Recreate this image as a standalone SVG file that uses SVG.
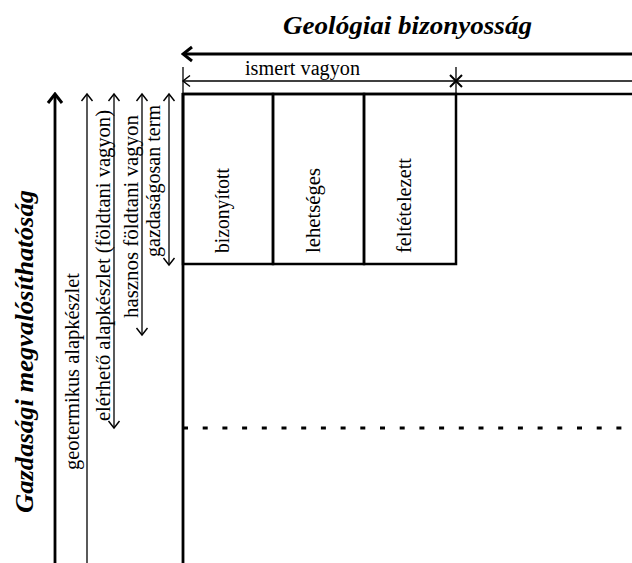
<svg xmlns="http://www.w3.org/2000/svg" width="632" height="563" viewBox="0 0 632 563" font-family="Liberation Serif, serif">
<style>
.t{font-size:20px;fill:#000}
.h{font-size:26px;font-weight:bold;font-style:italic;fill:#000}
.thin{stroke:#000;stroke-width:1.3;fill:none}
.thick{stroke:#000;stroke-width:2.8;fill:none}
.box{stroke:#000;stroke-width:2.5;fill:none}
</style>
<defs>
<marker id="ah" viewBox="-10 -8 12 16" markerWidth="12" markerHeight="16" refX="0" refY="0" markerUnits="userSpaceOnUse" orient="auto-start-reverse">
<path d="M-7,-5.5 L0,0 L-7,5.5" fill="none" stroke="#000" stroke-width="1.4"/>
</marker>
<marker id="ahb" viewBox="-12 -10 14 20" markerWidth="14" markerHeight="20" refX="0" refY="0" markerUnits="userSpaceOnUse" orient="auto-start-reverse">
<path d="M-9,-7 L0,0 L-9,7" fill="none" stroke="#000" stroke-width="3"/>
</marker>
</defs>
<rect width="632" height="563" fill="#fff"/>

<g id="title">
<text class="h" font-family="Liberation Serif, serif" x="283" y="34" textLength="249" lengthAdjust="spacingAndGlyphs">Geológiai bizonyosság</text>
</g>
<g id="axis-label">
<text class="h" font-family="Liberation Serif, serif" transform="translate(33,513) rotate(-90)" textLength="323" lengthAdjust="spacingAndGlyphs">Gazdasági megvalósíthatóság</text>
</g>

<g id="frame">
<line class="box" x1="183" y1="94" x2="632" y2="94"/>
<line class="thick" x1="183" y1="93" x2="183" y2="563"/>
<line x1="183" y1="428" x2="632" y2="428" stroke="#000" stroke-width="3" stroke-dasharray="5 14.7"/>
</g>

<g id="box-bizonyitott">
<rect class="box" x="183" y="94" width="90" height="170"/>
<text class="t" font-family="Liberation Serif, serif" transform="translate(229,253) rotate(-90)" textLength="85" lengthAdjust="spacingAndGlyphs">bizonyított</text>
</g>
<g id="box-lehetseges">
<rect class="box" x="273" y="94" width="91" height="170"/>
<text class="t" font-family="Liberation Serif, serif" transform="translate(320,253) rotate(-90)" textLength="85" lengthAdjust="spacingAndGlyphs">lehetséges</text>
</g>
<g id="box-feltetelezett">
<rect class="box" x="364" y="94" width="92" height="170"/>
<text class="t" font-family="Liberation Serif, serif" transform="translate(411,253) rotate(-90)" textLength="95" lengthAdjust="spacingAndGlyphs">feltételezett</text>
</g>

<g id="labels" font-family="Liberation Serif, serif">
<text class="t" x="245" y="75" textLength="115" lengthAdjust="spacingAndGlyphs">ismert vagyon</text>
<text class="t" transform="translate(79,470) rotate(-90)" textLength="197" lengthAdjust="spacingAndGlyphs">geotermikus alapkészlet</text>
<text class="t" transform="translate(110,421) rotate(-90)" textLength="311" lengthAdjust="spacingAndGlyphs">elérhető alapkészlet (földtani vagyon)</text>
<text class="t" transform="translate(138,318) rotate(-90)" textLength="203" lengthAdjust="spacingAndGlyphs">hasznos földtani vagyon</text>
<text class="t" transform="translate(160,257) rotate(-90)" textLength="152" lengthAdjust="spacingAndGlyphs">gazdaságosan term</text>
</g>

<g id="connectors">
<line class="thick" x1="632" y1="54" x2="183" y2="54" marker-end="url(#ahb)"/>
<line class="thin" x1="632" y1="81" x2="183" y2="81" marker-end="url(#ah)"/>
<line class="thin" x1="183" y1="67" x2="183" y2="94"/>
<line class="thin" x1="456" y1="67" x2="456" y2="94"/>
<path d="M450,75 L462,87 M450,87 L462,75" stroke="#000" stroke-width="2" fill="none"/>
<line class="thick" x1="55" y1="563" x2="55" y2="94" marker-end="url(#ahb)"/>
<line class="thin" x1="87" y1="563" x2="87" y2="94" marker-end="url(#ah)"/>
<line class="thin" x1="114" y1="428" x2="114" y2="94" marker-start="url(#ah)" marker-end="url(#ah)"/>
<line class="thin" x1="142" y1="335" x2="142" y2="94" marker-start="url(#ah)" marker-end="url(#ah)"/>
<line class="thin" x1="169" y1="265" x2="169" y2="94" marker-start="url(#ah)" marker-end="url(#ah)"/>
</g>
</svg>
